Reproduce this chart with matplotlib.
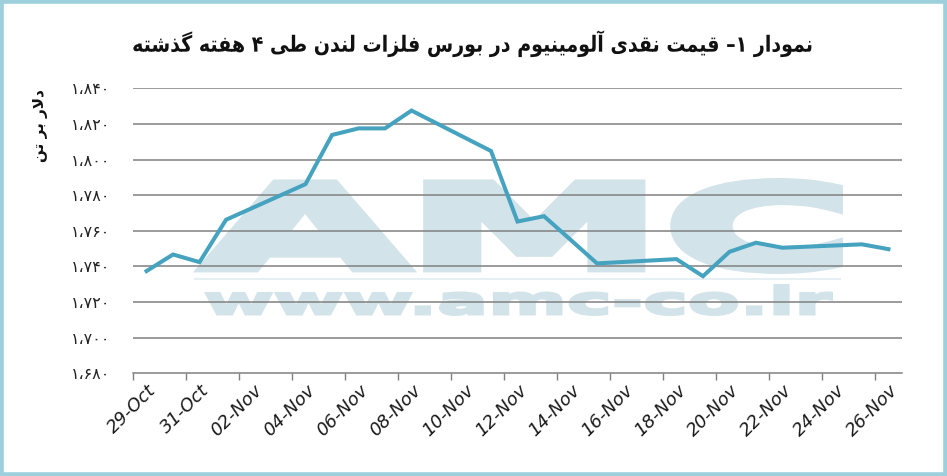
import matplotlib
matplotlib.use("Agg")
import matplotlib.pyplot as plt
import pandas as pd
from matplotlib.patheffects import AbstractPathEffect
from matplotlib.transforms import Affine2D
from matplotlib.patches import Rectangle

# ---------------- data ----------------
dates = ["2013-10-29", "2013-10-30", "2013-10-31", "2013-11-01",
         "2013-11-04", "2013-11-05", "2013-11-06", "2013-11-07", "2013-11-08",
         "2013-11-11", "2013-11-12", "2013-11-13", "2013-11-14", "2013-11-15",
         "2013-11-18", "2013-11-19", "2013-11-20", "2013-11-21", "2013-11-22",
         "2013-11-25", "2013-11-26"]
prices = [1737.4, 1746.7, 1742.4, 1766.2,
          1786.2, 1813.8, 1817.5, 1817.5, 1827.5,
          1804.8, 1765.2, 1768.2, 1755.0, 1741.7,
          1744.1, 1734.5, 1748.2, 1753.3, 1750.5,
          1752.4, 1749.7]
x_tick_labels = ["29-Oct", "31-Oct", "02-Nov", "04-Nov", "06-Nov", "08-Nov",
                 "10-Nov", "12-Nov", "14-Nov", "16-Nov", "18-Nov", "20-Nov",
                 "22-Nov", "24-Nov", "26-Nov"]
y_ticks = [1680, 1700, 1720, 1740, 1760, 1780, 1800, 1820, 1840]
y_tick_labels = ["۱،۶۸۰", "۱،۷۰۰", "۱،۷۲۰", "۱،۷۴۰", "۱،۷۶۰",
                 "۱،۷۸۰", "۱،۸۰۰", "۱،۸۲۰", "۱،۸۴۰"]
title_text = "نمودار ۱– قیمت نقدی آلومینیوم در بورس فلزات لندن طی ۴ هفته گذشته"
ylabel_text = "دلار بر تن"
watermark_logo = "AMC"
watermark_url = "www.amc-co.ir"

# ---------------- simple Persian shaping ----------------
FORMS = {
    'ا': ('\uFE8D', '\uFE8E', None, None), 'آ': ('\uFE81', '\uFE82', None, None),
    'ب': ('\uFE8F', '\uFE90', '\uFE91', '\uFE92'), 'پ': ('\uFB56', '\uFB57', '\uFB58', '\uFB59'),
    'ت': ('\uFE95', '\uFE96', '\uFE97', '\uFE98'), 'ث': ('\uFE99', '\uFE9A', '\uFE9B', '\uFE9C'),
    'ج': ('\uFE9D', '\uFE9E', '\uFE9F', '\uFEA0'), 'چ': ('\uFB7A', '\uFB7B', '\uFB7C', '\uFB7D'),
    'ح': ('\uFEA1', '\uFEA2', '\uFEA3', '\uFEA4'), 'خ': ('\uFEA5', '\uFEA6', '\uFEA7', '\uFEA8'),
    'د': ('\uFEA9', '\uFEAA', None, None), 'ذ': ('\uFEAB', '\uFEAC', None, None),
    'ر': ('\uFEAD', '\uFEAE', None, None), 'ز': ('\uFEAF', '\uFEB0', None, None),
    'ژ': ('\uFB8A', '\uFB8B', None, None),
    'س': ('\uFEB1', '\uFEB2', '\uFEB3', '\uFEB4'), 'ش': ('\uFEB5', '\uFEB6', '\uFEB7', '\uFEB8'),
    'ص': ('\uFEB9', '\uFEBA', '\uFEBB', '\uFEBC'), 'ض': ('\uFEBD', '\uFEBE', '\uFEBF', '\uFEC0'),
    'ط': ('\uFEC1', '\uFEC2', '\uFEC3', '\uFEC4'), 'ظ': ('\uFEC5', '\uFEC6', '\uFEC7', '\uFEC8'),
    'ع': ('\uFEC9', '\uFECA', '\uFECB', '\uFECC'), 'غ': ('\uFECD', '\uFECE', '\uFECF', '\uFED0'),
    'ف': ('\uFED1', '\uFED2', '\uFED3', '\uFED4'), 'ق': ('\uFED5', '\uFED6', '\uFED7', '\uFED8'),
    'ک': ('\uFB8E', '\uFB8F', '\uFB90', '\uFB91'), 'گ': ('\uFB92', '\uFB93', '\uFB94', '\uFB95'),
    'ل': ('\uFEDD', '\uFEDE', '\uFEDF', '\uFEE0'), 'م': ('\uFEE1', '\uFEE2', '\uFEE3', '\uFEE4'),
    'ن': ('\uFEE5', '\uFEE6', '\uFEE7', '\uFEE8'), 'ه': ('\uFEE9', '\uFEEA', '\uFEEB', '\uFEEC'),
    'و': ('\uFEED', '\uFEEE', None, None),
    'ی': ('\uFBFC', '\uFBFD', '\uFBFE', '\uFBFF'),
}
LAM_ALEF = {'ا': ('\uFEFB', '\uFEFC'), 'آ': ('\uFEF5', '\uFEF6')}


def persian(text):
    out = []
    chars = list(text)
    i = 0
    n = len(chars)

    def dual(c):
        return c in FORMS and FORMS[c][2] is not None

    while i < n:
        c = chars[i]
        prev_c = chars[i - 1] if i > 0 else ''
        joins_prev = dual(prev_c)
        if c == 'ل' and i + 1 < n and chars[i + 1] in LAM_ALEF:
            iso, fin = LAM_ALEF[chars[i + 1]]
            out.append(fin if joins_prev else iso)
            i += 2
            continue
        if c not in FORMS:
            out.append(c)
            i += 1
            continue
        next_c = chars[i + 1] if i + 1 < n else ''
        joins_next = dual(c) and next_c in FORMS
        iso, fin, ini, med = FORMS[c]
        if joins_prev and joins_next:
            out.append(med)
        elif joins_prev:
            out.append(fin)
        elif joins_next:
            out.append(ini)
        else:
            out.append(iso)
        i += 1
    return ''.join(reversed(out))


# ---------------- figure ----------------
W, H = 947, 476
fig = plt.figure(figsize=(W / 100, H / 100), dpi=100)
fig.patch.set_facecolor("white")


def fx(px):
    return px / W


def fy(py):
    return 1 - py / H


# ------------- path effect that fits the glyph outline into a pixel box (watermark) -------------
class FitBox(AbstractPathEffect):
    def __init__(self, x0, x1, y_top, y_bot, stroke_px=0.0, color=None):
        super().__init__()
        self.x0, self.x1 = x0, x1
        self.yt, self.yb = H - y_top, H - y_bot  # display coords (origin bottom)
        self.s = stroke_px
        self.color = color

    def draw_path(self, renderer, gc, tpath, affine, rgbFace=None):
        ext = tpath.transformed(affine).get_extents()
        h = self.s / 2.0
        tw = (self.x1 - self.x0) - 2 * h
        th = (self.yt - self.yb) - 2 * h
        sx = tw / ext.width
        sy = th / ext.height
        aff = affine + Affine2D().translate(-ext.x0, -ext.y0).scale(sx, sy).translate(
            self.x0 + h, self.yb + h)
        gc0 = renderer.new_gc()
        gc0.copy_properties(gc)
        if self.s > 0:
            gc0.set_linewidth(self.s * 72.0 / 100.0)
            gc0.set_foreground(self.color)
            gc0.set_joinstyle("miter")
        else:
            gc0.set_linewidth(0)
        renderer.draw_path(gc0, tpath, aff, rgbFace)
        gc0.restore()


class SqueezeX(AbstractPathEffect):
    """Horizontally rescale the rendered glyphs about their centre to a target width."""
    def __init__(self, width_px):
        super().__init__()
        self.w = width_px

    def draw_path(self, renderer, gc, tpath, affine, rgbFace=None):
        ext = tpath.transformed(affine).get_extents()
        sx = self.w / ext.width
        cx = (ext.x0 + ext.x1) / 2.0
        aff = affine + Affine2D().translate(-cx, 0).scale(sx, 1).translate(cx, 0)
        renderer.draw_path(gc, tpath, aff, rgbFace)


ax_left, ax_right = 133.3, 901.7
ax_top, ax_bottom = 88.3, 373.3
ax = fig.add_axes([fx(ax_left), fy(ax_bottom), fx(ax_right - ax_left), (ax_bottom - ax_top) / H])
ax.set_facecolor("none")

start = pd.Timestamp(dates[0])
xs = [(pd.Timestamp(d) - start).days for d in dates]

line_color = "#45a3bf"
ax.plot(xs, prices, color=line_color, lw=2.9, solid_joinstyle="miter", zorder=3)

ax.set_xlim(-0.5, 28.5)
ax.set_ylim(y_ticks[0], y_ticks[-1])

grid_color = "#808080"
for yv in y_ticks[1:]:
    ax.axhline(yv, color=grid_color, lw=1.1, zorder=1)

for s in ["top", "right", "left"]:
    ax.spines[s].set_visible(False)
ax.spines["bottom"].set_color(grid_color)
ax.spines["bottom"].set_linewidth(1.1)

# x ticks: marks at bin boundaries, labels at bin centres
major = [i - 0.5 for i in range(0, 29, 2)]
ax.set_xticks(major)
ax.set_xticklabels([])
ax.tick_params(axis="x", which="major", direction="out", length=5, width=1.0, color=grid_color)
ax.set_xticks(list(range(0, 29, 2)), minor=True)
ax.set_xticklabels(x_tick_labels, minor=True, rotation=45, ha="right", va="top",
                   rotation_mode="anchor", fontsize=13, fontstyle="italic",
                   family="DejaVu Sans", color="#1a1a1a")
ax.tick_params(axis="x", which="minor", length=0, pad=6)

ax.set_yticks(y_ticks)
ax.set_yticklabels(y_tick_labels, fontsize=11.5, family="DejaVu Sans", color="#222222")
ax.tick_params(axis="y", length=0, pad=16.5)

# watermark (real text, glyph outlines fitted into the logo's box)
wm_color = "#d3e3ea"
ax.text(fx(521), fy(226), watermark_logo, transform=fig.transFigure, ha="center",
        va="center", fontsize=40, fontweight="bold", family="DejaVu Sans",
        color=wm_color, zorder=0,
        path_effects=[FitBox(200, 843, 178, 274, stroke_px=12, color=wm_color)])
ax.text(fx(519), fy(300), watermark_url, transform=fig.transFigure,
        ha="center", va="center", fontsize=18, fontweight="bold", family="DejaVu Sans",
        color=wm_color, zorder=0,
        path_effects=[FitBox(205, 833, 284, 316, stroke_px=3, color=wm_color)])
ax.plot([fx(195), fx(840)], [fy(279), fy(279)], transform=fig.transFigure,
        color="#e6eff3", lw=1.5, zorder=0)

# y label
fig.text(fx(41), fy(126), persian(ylabel_text), rotation=90, ha="center", va="center",
         fontsize=11, fontweight="bold", family="DejaVu Sans", color="#111111")

# title (slightly condensed like the original heavy Persian face)
fig.text(fx(473), fy(44), persian(title_text), ha="center", va="center",
         fontsize=16, fontweight="bold", family="DejaVu Sans", color="#111111",
         path_effects=[SqueezeX(678)])

# frame
fig.patches.append(Rectangle((0, 0), 1, 1, transform=fig.transFigure, fill=False,
                             edgecolor="#9dd0dc", lw=5.5, zorder=10))

fig.savefig("out.png", dpi=100)
